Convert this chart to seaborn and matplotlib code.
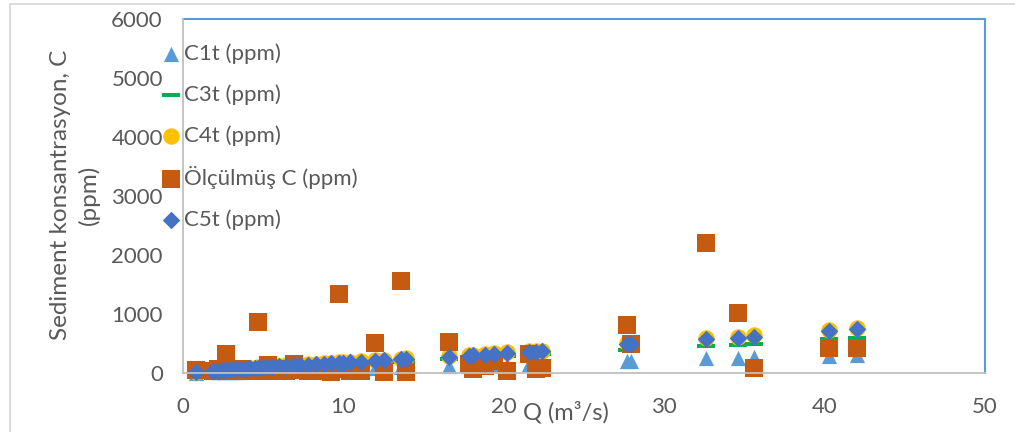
import matplotlib
matplotlib.use("Agg")
import matplotlib.pyplot as plt
import seaborn as sns
import numpy as np
import pandas as pd
from matplotlib.path import Path
from matplotlib.markers import MarkerStyle
from matplotlib.patches import Rectangle

# ---------------- data ----------------
Q = [0.8, 1.9, 2.2, 2.5, 2.7, 3.0, 3.3, 3.6, 3.9, 4.2, 4.5, 4.7, 5.0, 5.3, 5.6,
     6.0, 6.4, 6.9, 7.3, 7.8, 8.3, 8.8, 9.2, 9.7, 10.0, 10.4, 11.1, 12.0, 12.5,
     13.6, 13.9, 16.6, 17.8, 18.1, 18.8, 19.4, 20.2, 21.6, 22.0, 22.4, 27.7,
     27.9, 32.6, 34.6, 35.6, 40.3, 42.0]

C1t = [4, 12, 14, 16, 18, 20, 22, 24, 27, 29, 31, 33, 35, 37, 39, 42, 45, 48,
       51, 55, 58, 62, 65, 68, 70, 73, 78, 84, 88, 96, 98, 118, 126, 128, 133,
       137, 143, 152, 155, 158, 196, 198, 248, 258, 268, 292, 312]

C3t = [8, 28, 34, 39, 44, 48, 52, 56, 60, 64, 70, 74, 78, 84, 88, 92, 98, 104,
       108, 114, 120, 126, 130, 136, 140, 144, 152, 164, 170, 186, 190, 240,
       258, 262, 272, 280, 290, 305, 310, 315, 395, 398, 450, 470, 492, 570, 592]

C4t = [12, 37, 45, 51, 58, 63, 68, 73, 79, 84, 92, 96, 103, 110, 115, 120, 128,
       136, 141, 149, 157, 165, 170, 178, 183, 188, 199, 215, 222, 243, 249,
       285, 306, 311, 324, 334, 348, 368, 375, 381, 505, 508, 588, 610, 636,
       730, 760]

Olculmus = [45, 30, 60, 40, 320, 30, 50, 60, 35, 30, 40, 860, 50, 140, 30, 60,
            40, 160, 50, 40, 60, 40, 10, 1340, 60, 40, 40, 510, 20, 1560, 20,
            520, 150, 70, 120, 200, 40, 330, 70, 85, 810, 490, 2210, 1015, 80,
            420, 420]

C5t = [10, 35, 42, 48, 55, 60, 65, 70, 75, 80, 88, 92, 98, 105, 110, 115, 122,
       130, 135, 142, 150, 158, 162, 170, 175, 180, 190, 205, 212, 232, 238,
       275, 295, 300, 312, 322, 335, 355, 362, 368, 490, 492, 570, 592, 618,
       712, 742]

labels = ["C1t (ppm)", "C3t (ppm)", "C4t (ppm)", "Ölçülmüş C (ppm)", "C5t (ppm)"]
x_ticks = [0, 10, 20, 30, 40, 50]
y_ticks = [0, 1000, 2000, 3000, 4000, 5000, 6000]

df = pd.DataFrame({"Q": Q, labels[0]: C1t, labels[1]: C3t, labels[2]: C4t,
                   labels[3]: Olculmus, labels[4]: C5t})

# ---------------- style ----------------
sns.set_theme(style="white")
plt.rcParams["font.family"] = ["Lato", "DejaVu Sans"]
TXT = "#595959"

fig = plt.figure(figsize=(10.15, 4.32), dpi=100)
W, H = 1015, 432
ax = fig.add_axes([183 / W, (H - 373) / H, 802 / W, 354 / H])

dash = MarkerStyle(Path([(-1, -0.26), (1, -0.26), (1, 0.26), (-1, 0.26), (-1, -0.26)],
                        [Path.MOVETO, Path.LINETO, Path.LINETO, Path.LINETO, Path.CLOSEPOLY]))

specs = [
    (labels[0], "^", 120, "#5B9BD5"),
    (labels[1], dash, 150, "#00B050"),
    (labels[2], "o", 140, "#FFC000"),
    (labels[3], "s", 150, "#C55A11"),
    (labels[4], "D", 80, "#4472C4"),
]
for i, (lab, mk, s, col) in enumerate(specs):
    sns.scatterplot(data=df, x="Q", y=lab, marker=mk, s=s, color=col,
                    linewidth=0, ax=ax, label=lab, zorder=3 + i, clip_on=False)

ax.set_xlim(0, 50)
ax.set_ylim(0, 6000)
ax.set_xticks(x_ticks)
ax.set_yticks(y_ticks)
ax.set_xticklabels([str(v) for v in x_ticks])
ax.set_yticklabels([str(v) for v in y_ticks])
ax.tick_params(axis="both", length=0, labelsize=16, colors=TXT)
ax.tick_params(axis="y", pad=14.5)
ax.tick_params(axis="x", pad=17)

for sp in ["left", "bottom"]:
    ax.spines[sp].set_color("#BFBFBF")
    ax.spines[sp].set_linewidth(1.3)
for sp in ["top", "right"]:
    ax.spines[sp].set_color("#5B9BD5")
    ax.spines[sp].set_linewidth(1.5)
ax.spines["left"].set_zorder(10)
ax.spines["bottom"].set_zorder(10)

ax.set_xlabel("Q (m³/s)", fontsize=17, color=TXT, va="center")
ax.xaxis.set_label_coords((566 - 183) / 802, (373 - 412) / 354)
ax.set_ylabel("Sediment konsantrasyon, C\n(ppm)", fontsize=17.5, color=TXT,
              va="center", ha="center", linespacing=1.35)
ax.yaxis.set_label_coords((75 - 183) / 802, (373 - 195) / 354)

leg = ax.legend(loc="upper left", bbox_to_anchor=(160 / W, 1 - 43 / H),
                bbox_transform=fig.transFigure, frameon=False, fontsize=16,
                handlelength=1.0, handletextpad=0.06, labelspacing=0.92,
                borderpad=0, borderaxespad=0)
for t in leg.get_texts():
    t.set_color(TXT)
for h, (lab, mk, s, col) in zip(leg.legend_handles, specs):
    h.set_sizes([s])
leg.set_zorder(20)

# outer chart border
fig.patches.append(Rectangle((10 / W, -0.1), 1.2, (H - 4) / H + 0.1, transform=fig.transFigure,
                             fill=False, edgecolor="#D9D9D9", linewidth=1.3, zorder=0))

fig.savefig("out.png", dpi=100)
